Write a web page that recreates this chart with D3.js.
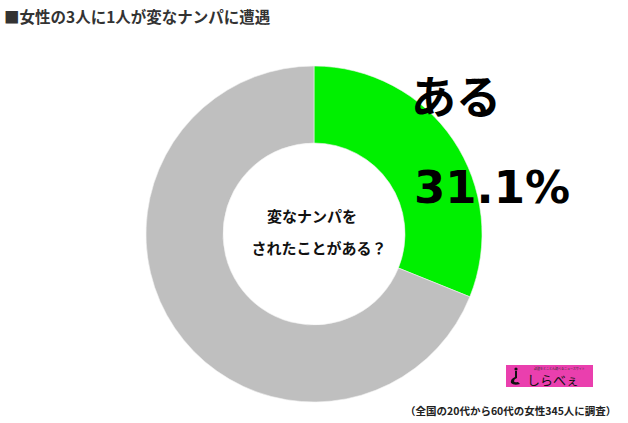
<!DOCTYPE html>
<html><head><meta charset="utf-8">
<script src="https://cdn.jsdelivr.net/npm/d3@7"></script>
<style>
body{margin:0;background:#fff;}
svg{display:block;}
</style></head>
<body><svg id="c" width="628" height="423"></svg>
<script>
const categories = ["ある", "ない"];
const values = [31.1, 68.9];
const colors = ["#00f000", "#bfbfbf"];
const title = "■女性の3人に1人が変なナンパに遭遇";
const centerLines = ["変なナンパを", "されたことがある？"];
const labelText = "ある";
const labelValue = "31.1%";
const footnote = "（全国の20代から60代の女性345人に調査）";

const svg = d3.select("#c");
const jp = "'Noto Sans CJK JP','Noto Sans CJK SC',sans-serif";
const cx = 314, cy = 234, rO = 168, rI = 91;

svg.append("text").attr("x", 4).attr("y", 23)
  .attr("font-family", jp).attr("font-weight", "bold").attr("font-size", 15.5)
  .attr("fill", "#333").text(title);

const pie = d3.pie().sort(null).value(d => d)(values);
const arc = d3.arc().innerRadius(rI).outerRadius(rO);
const g = svg.append("g").attr("transform", `translate(${cx},${cy})`);
g.selectAll("path").data(pie).join("path")
  .attr("d", arc).attr("fill", (d, i) => colors[i])
  .attr("stroke", "#f2f2f2").attr("stroke-width", 0.6);

svg.append("text").attr("x", 411).attr("y", 114)
  .attr("font-family", jp).attr("font-weight", "bold").attr("font-size", 45)
  .attr("fill", "#000").text(labelText);
svg.append("text").attr("x", 414).attr("y", 203)
  .attr("font-family", "'DejaVu Sans',sans-serif").attr("font-weight", "bold").attr("font-size", 45)
  .attr("fill", "#000").text(labelValue);

svg.append("text").attr("x", 312).attr("y", 222).attr("text-anchor", "middle")
  .attr("font-family", jp).attr("font-weight", "bold").attr("font-size", 15)
  .attr("fill", "#111").text(centerLines[0]);
svg.append("text").attr("x", 319).attr("y", 254).attr("text-anchor", "middle")
  .attr("font-family", jp).attr("font-weight", "bold").attr("font-size", 15)
  .attr("fill", "#111").text(centerLines[1]);

// logo
const lg = svg.append("g").attr("transform", "translate(506,365)");
lg.append("rect").attr("width", 87).attr("height", 22).attr("fill", "#ea3fae");
lg.append("text").attr("x", 28).attr("y", 4.5).attr("font-family", jp).attr("font-size", 3)
  .attr("fill", "#333").text("話題をとことん調べるニュースサイト");
lg.append("path").attr("d", "M9,6 L9,12 Q4,14 5,18 Q8,21 14,19 L12,17 Q8,18 8,16 Q8,14 11,13 L11,6 Z").attr("fill", "#111");
lg.append("circle").attr("cx", 10).attr("cy", 4).attr("r", 1.6).attr("fill", "#111");
lg.append("text").attr("x", 21).attr("y", 19.5).attr("font-family", jp).attr("font-size", 13)
  .attr("fill", "#111").text("しらべぇ");
lg.append("rect").attr("x", 73).attr("y", 22).attr("width", 4).attr("height", 3).attr("fill", "#fff");

svg.append("text").attr("x", 405).attr("y", 415)
  .attr("font-family", jp).attr("font-weight", "bold").attr("font-size", 10.5)
  .attr("fill", "#222").text(footnote);
</script></body></html>
